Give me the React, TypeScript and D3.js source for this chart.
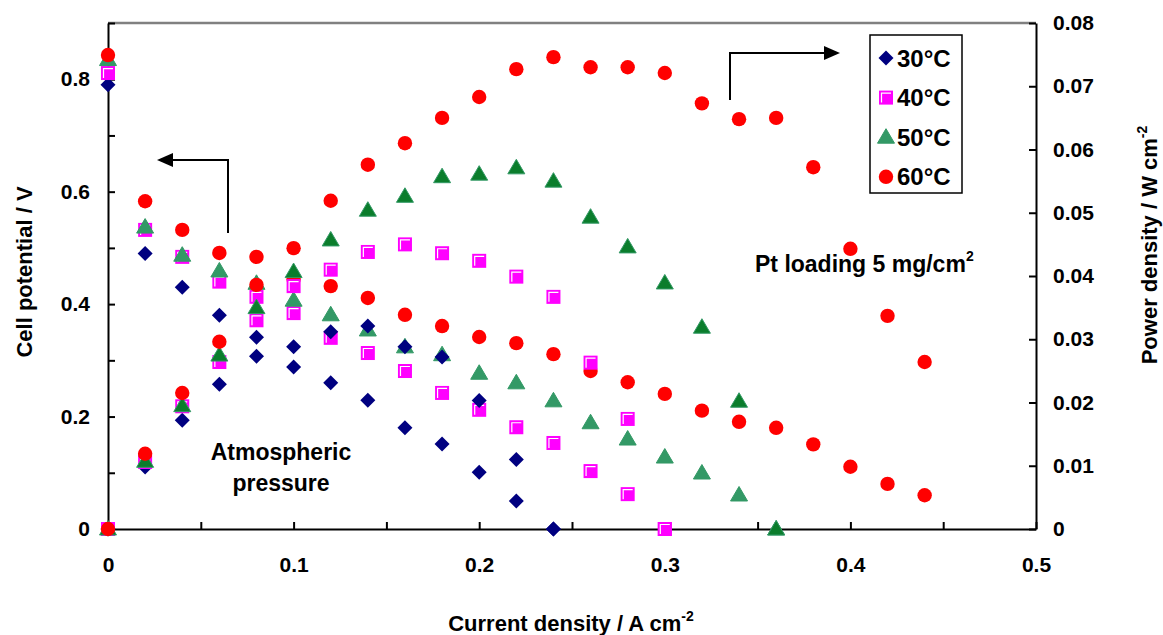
import React, { useEffect, useRef } from 'react';
import * as d3 from 'd3';

// current density (A cm-2) at which every point was measured
const currentDensity = [0, 0.02, 0.04, 0.06, 0.08, 0.1, 0.12, 0.14, 0.16, 0.18, 0.2, 0.22, 0.24, 0.26, 0.28, 0.3, 0.32, 0.34, 0.36, 0.38, 0.4, 0.42, 0.44];

const temperatures = ['30°C', '40°C', '50°C', '60°C'];

// cell potential / V (left axis)
const potential30 = [0.79, 0.49, 0.43, 0.38, 0.341, 0.288, 0.26, 0.229, 0.18, 0.151, 0.101, 0.05, 0];
const potential40 = [0.811, 0.532, 0.484, 0.44, 0.413, 0.384, 0.34, 0.313, 0.281, 0.242, 0.212, 0.181, 0.153, 0.103, 0.062, 0];
const potential50 = [0.835, 0.537, 0.487, 0.459, 0.437, 0.407, 0.381, 0.354, 0.324, 0.31, 0.277, 0.26, 0.228, 0.189, 0.16, 0.128, 0.0996, 0.0605, 0];
const potential60 = [0.843, 0.583, 0.532, 0.491, 0.484, 0.444, 0.432, 0.411, 0.381, 0.361, 0.3415, 0.3306, 0.311, 0.281, 0.261, 0.2403, 0.2105, 0.1907, 0.18, 0.1506, 0.1107, 0.0802, 0.06];

// power density / W cm-2 (right axis)
const power30 = [0, 0.0098, 0.0172, 0.0229, 0.0273, 0.0288, 0.0312, 0.0321, 0.0288, 0.0272, 0.0203, 0.011, 0];
const power40 = [0, 0.0106, 0.0194, 0.0264, 0.033, 0.0384, 0.041, 0.0438, 0.045, 0.0436, 0.0424, 0.0399, 0.0367, 0.0263, 0.0174, 0];
const power50 = [0, 0.0107, 0.0195, 0.0275, 0.035, 0.0407, 0.0457, 0.0504, 0.0526, 0.0557, 0.0561, 0.0571, 0.055, 0.0493, 0.0446, 0.0389, 0.0319, 0.0202, 0];
const power60 = [0, 0.0119, 0.0215, 0.0296, 0.0386, 0.0444, 0.0519, 0.0576, 0.061, 0.065, 0.0683, 0.0727, 0.0746, 0.073, 0.073, 0.0721, 0.0673, 0.0648, 0.065, 0.0572, 0.0443, 0.0337, 0.0264];

const potentialTicks = [0, 0.1, 0.2, 0.3, 0.4, 0.5, 0.6, 0.7, 0.8, 0.9];
const currentTicks = [0, 0.05, 0.1, 0.15, 0.2, 0.25, 0.3, 0.35, 0.4, 0.45, 0.5];
const powerTicks = [0, 0.01, 0.02, 0.03, 0.04, 0.05, 0.06, 0.07, 0.08];

const FONT = "'Liberation Sans', Arial, Helvetica, sans-serif";

const App = () => {
  const svgRef = useRef<SVGSVGElement>(null);

  useEffect(() => {
    const svg = d3.select(svgRef.current);
    svg.selectAll('*').remove();

    const left = 108, right = 1036, top = 23, bottom = 529;

    const x = d3.scaleLinear().domain([0, 0.5]).range([left, right]);
    const yL = d3.scaleLinear().domain([0, 0.9]).range([bottom, top]);
    const yR = d3.scaleLinear().domain([0, 0.08]).range([bottom, top]);

    const styles: any = {
      '30°C': { shape: 'diamond', fill: '#000080', pFill: '#000080', stroke: 'none' },
      '40°C': { shape: 'square', fill: '#ff00ff', pFill: '#ff00ff', stroke: 'none' },
      '50°C': { shape: 'triangle', fill: '#339966', pFill: '#0b7d2c', stroke: '#339966' },
      '60°C': { shape: 'circle', fill: '#ff0000', pFill: '#ff0000', stroke: 'none' },
    };

    const marker = (g: any, shape: string, cx: number, cy: number, fill: string, stroke: string) => {
      if (shape === 'diamond') {
        g.append('path')
          .attr('d', `M${cx},${cy - 7.5}L${cx + 7.5},${cy}L${cx},${cy + 7.5}L${cx - 7.5},${cy}Z`)
          .attr('fill', fill);
      } else if (shape === 'square') {
        g.append('rect').attr('x', cx - 7).attr('y', cy - 7).attr('width', 14).attr('height', 14).attr('fill', fill);
        g.append('path')
          .attr('d', `M${cx - 4.5},${cy + 5}V${cy - 4.5}H${cx + 5}`)
          .attr('fill', 'none').attr('stroke', '#fff').attr('stroke-width', 1.2);
      } else if (shape === 'triangle') {
        g.append('path')
          .attr('d', `M${cx},${cy - 8.5}L${cx + 8.5},${cy + 6}L${cx - 8.5},${cy + 6}Z`)
          .attr('fill', fill).attr('stroke', stroke).attr('stroke-width', 1);
      } else {
        g.append('circle').attr('cx', cx).attr('cy', cy).attr('r', 7.2).attr('fill', fill);
      }
    };

    // top frame line
    svg.append('line')
      .attr('x1', left).attr('x2', right).attr('y1', top).attr('y2', top)
      .attr('stroke', '#808080').attr('stroke-width', 2.5);

    const styleAxis = (g: any) => {
      g.selectAll('path').attr('stroke', '#000').attr('stroke-width', 2);
      g.selectAll('line').attr('stroke', '#000').attr('stroke-width', 2);
      g.selectAll('text')
        .attr('fill', '#000')
        .style('font-family', FONT)
        .style('font-size', '21px')
        .style('font-weight', 'bold');
    };

    svg.append('g')
      .attr('transform', `translate(${left},0)`)
      .call(d3.axisLeft(yL).tickValues(potentialTicks).tickSizeInner(-7).tickSizeOuter(0).tickPadding(18)
        .tickFormat((d: any) => (d === 0 ? '0' : (Math.round(d * 10) % 2 === 0 && d < 0.85 ? d.toFixed(1) : ''))))
      .call(styleAxis);

    svg.append('g')
      .attr('transform', `translate(0,${bottom})`)
      .call(d3.axisBottom(x).tickValues(currentTicks).tickSizeInner(-7).tickSizeOuter(0).tickPadding(28)
        .tickFormat((d: any) => (d === 0 ? '0' : (Math.round(d * 100) % 10 === 0 ? d.toFixed(1) : ''))))
      .call(styleAxis);

    svg.append('g')
      .attr('transform', `translate(${right},0)`)
      .call(d3.axisRight(yR).tickValues(powerTicks).tickSizeInner(-7).tickSizeOuter(0).tickPadding(17)
        .tickFormat((d: any) => (d === 0 ? '0' : d.toFixed(2))))
      .call(styleAxis);

    // points: cell potential series first, then power density series
    const potentials = [potential30, potential40, potential50, potential60];
    const powers = [power30, power40, power50, power60];
    const pts = svg.append('g');
    temperatures.forEach((t, k) => {
      const s = styles[t];
      potentials[k].forEach((v, i) => marker(pts, s.shape, x(currentDensity[i]), yL(v), s.fill, s.stroke));
    });
    temperatures.forEach((t, k) => {
      const s = styles[t];
      powers[k].forEach((p, i) => marker(pts, s.shape, x(currentDensity[i]), yR(p), s.pFill, s.stroke));
    });

    // arrows
    const arrows = svg.append('g');
    arrows.append('path').attr('d', 'M228,233V160H171').attr('fill', 'none').attr('stroke', '#000').attr('stroke-width', 2);
    arrows.append('path').attr('d', 'M157,160L173,153L173,167Z').attr('fill', '#000');
    arrows.append('path').attr('d', 'M730,100V53H825').attr('fill', 'none').attr('stroke', '#000').attr('stroke-width', 2);
    arrows.append('path').attr('d', 'M840,53L824,46L824,60Z').attr('fill', '#000');

    // legend
    const lg = svg.append('g');
    lg.append('rect').attr('x', 870).attr('y', 35).attr('width', 92).attr('height', 158)
      .attr('fill', '#fff').attr('stroke', '#000').attr('stroke-width', 1.5);
    temperatures.forEach((t, k) => {
      const cy = 58 + k * 39.6;
      const s = styles[t];
      marker(lg, s.shape, 886, cy, s.fill, s.stroke);
      lg.append('text').attr('x', 897).attr('y', cy + 8.5).text(t)
        .style('font-family', FONT).style('font-size', '24px').style('font-weight', 'bold');
    });

    const text = (xx: number, yy: number, str: string, size: number, anchor = 'start') =>
      svg.append('text').attr('x', xx).attr('y', yy).attr('text-anchor', anchor)
        .style('font-family', FONT).style('font-size', `${size}px`).style('font-weight', 'bold').text(str);

    text(281, 460, 'Atmospheric', 23, 'middle');
    text(281, 491, 'pressure', 23, 'middle');

    const pt = text(755, 272, 'Pt loading 5 mg/cm', 23);
    pt.append('tspan').attr('dy', -11).style('font-size', '14px').text('2');

    // axis titles
    const bt = text(571, 631, 'Current density / A cm', 22, 'middle');
    bt.append('tspan').attr('dy', -10).style('font-size', '14px').text('-2');

    svg.append('text')
      .attr('transform', 'translate(32,272) rotate(-90)')
      .attr('text-anchor', 'middle')
      .style('font-family', FONT).style('font-size', '22px').style('font-weight', 'bold')
      .text('Cell potential / V');

    const rt = svg.append('text')
      .attr('transform', 'translate(1157,245) rotate(-90)')
      .attr('text-anchor', 'middle')
      .style('font-family', FONT).style('font-size', '22px').style('font-weight', 'bold')
      .text('Power density / W cm');
    rt.append('tspan').attr('dy', -10).style('font-size', '14px').text('-2');
  }, []);

  return (
    <div style={{ position: 'absolute', left: 0, top: 0, width: 1163, height: 635, background: '#fff' }}>
      <svg ref={svgRef} width={1163} height={635} style={{ display: 'block' }} />
    </div>
  );
};

export default App;
